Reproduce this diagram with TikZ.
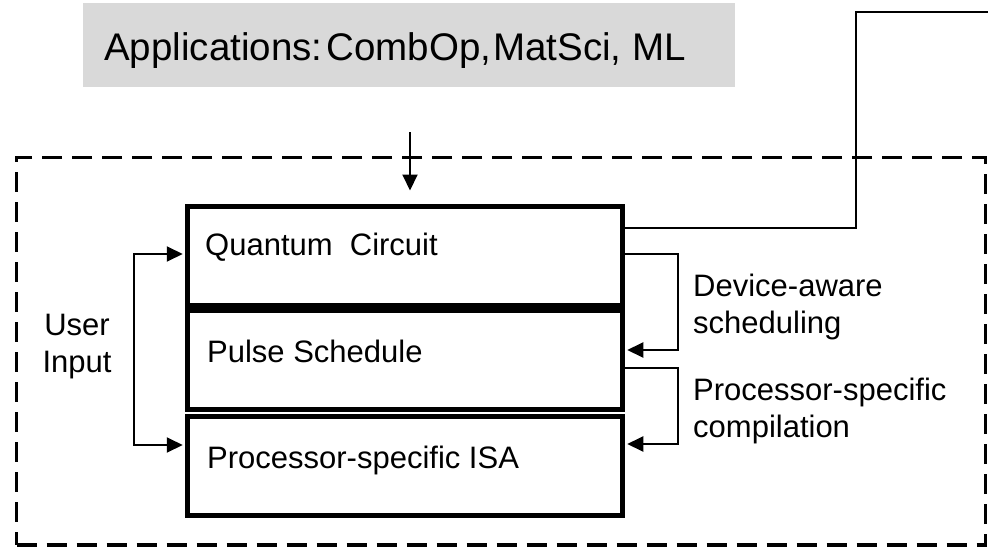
\documentclass[tikz,border=0pt]{standalone}
\usepackage{fontspec}
\setmainfont{Liberation Sans}
\usetikzlibrary{arrows.meta, positioning}
\definecolor{appgray}{RGB}{217, 217, 217}

\begin{document}
\begin{tikzpicture}[
    x=1pt, y=-1pt,
    layer/.style={draw, line width=5pt, minimum width=434.5pt,
                  minimum height=99pt, inner sep=0pt},
    lbl/.style={font=\fontsize{31}{37}\selectfont, inner sep=0pt,
                anchor=base west, align=left},
    wire/.style={line width=2pt},
    arrow/.style={-{Triangle[length=16pt, width=15pt]}, line width=2pt},
  ]
    \useasboundingbox (0,0) rectangle (988,551);

    % Applications box (top)
    \node[fill=appgray, minimum width=652pt, minimum height=84pt,
          inner sep=0pt] (apps) at (409,45) {};
    \node[lbl, font=\fontsize{38.5}{46}\selectfont] (appstxt) at (104,60)
      {Applications:\hspace{4pt}CombOp,\hspace{2pt}MatSci, ML};

    % Dashed frame
    \node[draw, line width=3.5pt, dash pattern=on 20pt off 10pt,
          minimum width=969pt, minimum height=387.5pt, inner sep=0pt]
      (frame) at (501,351.25) {};

    % Layer stack
    \node[layer] (qc) at (405,255.5) {};
    \node[lbl] (qctxt) at (205,255) {Quantum\ \ Circuit};

    \node[layer] (pulse) at (405,360) {};
    \node[lbl] (pulsetxt) at (207,362) {Pulse Schedule};

    \node[layer] (isa) at (405,465.5) {};
    \node[lbl] (isatxt) at (207,468) {Processor-specific ISA};

    % Side labels (base = last line)
    \node[lbl, align=center, anchor=base] (user) at (77,372) {User\\Input};
    \node[lbl] (devtxt) at (693,333) {Device-aware\\scheduling};
    \node[lbl] (comptxt) at (693,437) {Processor-specific\\compilation};

    % Arrows
    \coordinate (appout) at (410,132);
    \coordinate (exit) at (995,12);
    \draw[arrow, shorten >=13pt] (appout) -- (appout |- qc.north);

    \draw[wire] ([yshift=27.5pt]qc.east) -- ++(231,0) |- (exit);

    \draw[arrow, shorten >=2.5pt]
      ([yshift=1.5pt]qc.east) -- ++(53,0) |- ([yshift=10pt]pulse.east);
    \draw[arrow, shorten >=2.5pt]
      ([yshift=-8pt]pulse.east) -- ++(53,0) |- ([yshift=21.5pt]isa.east);

    \draw[arrow, {Triangle[length=16pt, width=15pt]}-{Triangle[length=16pt, width=15pt]},
          shorten <=2.5pt, shorten >=2.5pt]
      ([yshift=1.5pt]qc.west) -- ++(-51.5,0) |- ([yshift=20.5pt]isa.west);
\end{tikzpicture}
\end{document}
